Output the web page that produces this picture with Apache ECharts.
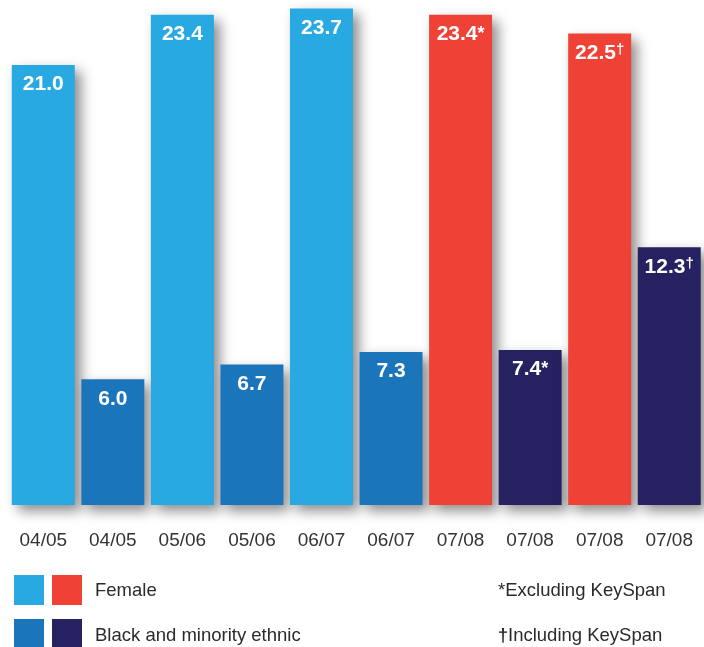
<!DOCTYPE html>
<html>
<head>
<meta charset="utf-8">
<script src="https://cdn.jsdelivr.net/npm/echarts@6/dist/echarts.min.js"></script>
<style>
html, body { margin: 0; padding: 0; background: #fff; }
#chart { width: 704px; height: 647px; }
</style>
</head>
<body>
<div id="chart"></div>
<script>
// periods (one per bar)
var categories = ['04/05', '04/05', '05/06', '05/06', '06/07', '06/07', '07/08', '07/08', '07/08', '07/08'];
// % of workforce
var values = [21.0, 6.0, 23.4, 6.7, 23.7, 7.3, 23.4, 7.4, 22.5, 12.3];
// which group each bar belongs to
var groups = ['female', 'bme', 'female', 'bme', 'female', 'bme', 'female', 'bme', 'female', 'bme'];
// footnote marks: '' none, '*' excluding KeySpan, '†' including KeySpan
var notes = ['', '', '', '', '', '', '*', '*', '†', '†'];

var colors = {
	female: '#29a9e1',
	bme: '#1b75bb',
	femaleNew: '#ef4136',
	bmeNew: '#262262'
};

function barColor(i) {
	var g = groups[i];
	if (notes[i] !== '') {
		return g === 'female' ? colors.femaleNew : colors.bmeNew;
	}
	return colors[g];
}

var data = values.map(function (v, i) {
	return { value: v, itemStyle: { color: barColor(i) } };
});

var font = '"Liberation Sans", Helvetica, Arial, sans-serif';
var legendFont = '18.5px ' + font;

var option = {
	animation: false,
	grid: {
		left: 8.5,
		right: -4.5,
		top: 0,
		bottom: 142
	},
	xAxis: {
		type: 'category',
		data: categories,
		axisLine: { show: false },
		axisTick: { show: false },
		axisLabel: {
			color: '#333',
			fontSize: 19,
			fontFamily: font,
			margin: 26,
			interval: 0
		}
	},
	yAxis: {
		type: 'value',
		min: 0,
		max: 24.1,
		show: false
	},
	series: [{
		type: 'bar',
		data: data,
		barWidth: 63,
		itemStyle: {
			shadowBlur: 12,
			shadowOffsetX: 6,
			shadowOffsetY: 6,
			shadowColor: 'rgba(0,0,0,0.45)'
		},
		label: {
			show: true,
			position: 'insideTop',
			distance: 9,
			formatter: function (p) {
				var n = notes[p.dataIndex];
				var s = '{v|' + p.value.toFixed(1) + '}';
				if (n === '†') s += '{d|†}';
				else if (n === '*') s += '{a|*}';
				return s;
			},
			rich: {
				v: { color: '#fff', fontSize: 21, fontWeight: 'bold', fontFamily: font },
				a: { color: '#fff', fontSize: 18, fontWeight: 'bold', fontFamily: font },
				d: { color: '#fff', fontSize: 15, fontWeight: 'bold', fontFamily: font, padding: [0, 0, 7, 0] }
			}
		}
	}],
	graphic: [
		{ type: 'rect', shape: { x: 14, y: 575, width: 30, height: 30 }, style: { fill: colors.female } },
		{ type: 'rect', shape: { x: 52, y: 575, width: 30, height: 30 }, style: { fill: colors.femaleNew } },
		{ type: 'rect', shape: { x: 14, y: 619, width: 30, height: 30 }, style: { fill: colors.bme } },
		{ type: 'rect', shape: { x: 52, y: 619, width: 30, height: 30 }, style: { fill: colors.bmeNew } },
		{ type: 'text', x: 95, y: 591, style: { text: 'Female', fill: '#2a2a2a', font: legendFont, textVerticalAlign: 'middle' } },
		{ type: 'text', x: 95, y: 636, style: { text: 'Black and minority ethnic', fill: '#2a2a2a', font: legendFont, textVerticalAlign: 'middle' } },
		{ type: 'text', x: 498, y: 591, style: { text: '*Excluding KeySpan', fill: '#2a2a2a', font: legendFont, textVerticalAlign: 'middle' } },
		{ type: 'text', x: 498, y: 636, style: { text: '{d|†}Including KeySpan', fill: '#2a2a2a', font: legendFont, textVerticalAlign: 'middle', rich: { d: { fontSize: 18, fontWeight: 'bold', fill: '#2a2a2a' } } } }
	]
};

var myChart = echarts.init(document.getElementById('chart'));
myChart.setOption(option);
</script>
</body>
</html>
